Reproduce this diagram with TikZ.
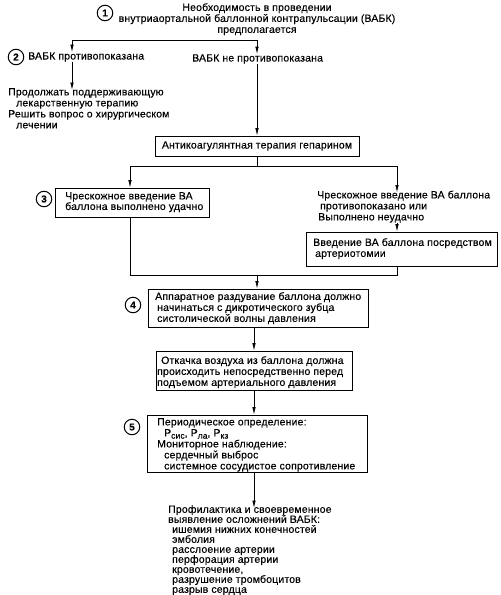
\documentclass[tikz,border=0pt]{standalone}
\usepackage{fontspec}
\setmainfont{Liberation Sans}[LetterSpace=1.5, FakeBold=0.3]
\usetikzlibrary{arrows.meta,calc}
\newcommand{\lowsub}[1]{\raisebox{-2.2pt}{\fontsize{8.5}{8.5}\selectfont #1}}
\begin{document}
\begin{tikzpicture}[x=1pt,y=-1pt,
  txt/.style={font=\fontsize{10.5}{11}\selectfont, inner sep=0, align=left, anchor=north west},
  box/.style={draw, line width=0.8pt, inner sep=0},
  num/.style={draw, circle, line width=1pt, minimum size=15.5pt, inner sep=0, font=\fontsize{10}{10}\selectfont\bfseries},
  arr/.style={-{Latex[length=7.5pt,width=3.5pt]}, line width=0.7pt},
  ln/.style={line width=0.7pt}]
\useasboundingbox (0,0) rectangle (501,595);

\node[txt, anchor=north, align=center] (need) at (257,3) {Необходимость в проведении\\внутриаортальной баллонной контрапульсации (ВАБК)\\предполагается};
\node[num] (n1) at (105,13) {1};
\coordinate (j1) at (257,40);
\coordinate (j1l) at (72,40);
\node[txt, anchor=west] (contra) at (28,57) {ВАБК противопоказана};
\node[num] (n2) at (16,57) {2};
\node[txt, anchor=west] (nocontra) at (192,59) {ВАБК не противопоказана};
\draw[ln] (j1l) -- (j1);
\draw[arr] (j1l) -- (j1l |- contra.north);
\draw[arr] (j1) -- (j1 |- nocontra.north);

\node[txt] (cont) at (8,88) {Продолжать поддерживающую\\\hspace*{8pt}лекарственную терапию\\Решить вопрос о хирургическом\\\hspace*{8pt}лечении};
\draw[arr] (j1l |- contra.south) -- ([yshift=-2pt]j1l |- cont.north);

\node[box, minimum width=204pt, minimum height=20pt, font=\fontsize{10.5}{11}\selectfont] (anti) at (257,146) {Антикоагулянтная терапия гепарином};
\draw[arr] (j1 |- nocontra.south) -- (anti.north);

\coordinate (j2) at (257,166);
\coordinate (j2l) at (130,166);
\coordinate (j2r) at (397,166);
\draw[ln] (anti.south) -- (j2);
\draw[ln] (j2l) -- (j2r);

\node[box, minimum width=154pt, minimum height=29pt] (perc) at (132,202.5) {};
\node[txt, font=\fontsize{10.5}{10.5}\selectfont] (perct) at (65,192) {Чрескожное введение ВА\\ баллона выполнено удачно};
\node[num] (n3) at (44,199) {3};
\draw[arr] (j2l) -- (j2l |- perc.north);

\node[txt] (fail) at (317,190.5) {Чрескожное введение ВА баллона\\\hspace*{3pt}противопоказано или\\\hspace*{1pt}Выполнено неудачно};
\draw[arr] (j2r) -- ([yshift=-2pt]j2r |- fail.north);

\node[box, minimum width=191pt, minimum height=34pt] (arto) at (401.5,249) {};
\node[txt] (artot) at (313,238) {Введение ВА баллона посредством\\\hspace*{2pt}артериотомии};
\draw[arr] (fail.south -| j2r) -- (j2r |- arto.north);

\coordinate (j3) at (257,275);
\coordinate (j3l) at (130,275);
\coordinate (j3r) at (397,275);
\draw[ln] (perc.south -| j3l) -- (j3l) -- (j3r) -- (arto.south -| j3r);

\node[box, minimum width=220pt, minimum height=38pt] (inf) at (258,308) {};
\node[txt] (inft) at (155,292) {Аппаратное раздувание баллона должно\\\hspace*{2pt}начинаться с дикротического зубца\\\hspace*{2pt}систолической волны давления};
\node[num] (n4) at (133,305) {4};
\draw[arr] (j3) -- (j3 |- inf.north);

\node[box, minimum width=196pt, minimum height=39pt] (defl) at (254,370.5) {};
\node[txt] (deflt) at (157,356) {\hspace*{4pt}Откачка воздуха из баллона должна\\происходить непосредственно перед\\подъемом артериального давления};
\draw[arr] (inf.south -| defl.north) -- (defl.north);

\node[box, minimum width=220pt, minimum height=57pt] (mon) at (257,443.5) {};
\node[txt] (mont) at (157,418) {Периодическое определение:\\\hspace*{7pt}P\lowsub{сис}, P\lowsub{ла}, P\lowsub{кз}\\Мониторное наблюдение:\\\hspace*{7pt}сердечный выброс\\\hspace*{7pt}системное сосудистое сопротивление};
\node[num] (n5) at (132,427) {5};
\draw[arr] (defl.south) -- (defl.south |- mon.north);

\node[txt, font=\fontsize{10.5}{10}\selectfont] (prof) at (168,505) {Профилактика и своевременное\\выявление осложнений ВАБК:\\\hspace*{4pt}ишемия нижних конечностей\\\hspace*{4pt}эмболия\\\hspace*{4pt}расслоение артерии\\\hspace*{4pt}перфорация артерии\\\hspace*{4pt}кровотечение,\\\hspace*{4pt}разрушение тромбоцитов\\\hspace*{4pt}разрыв сердца};
\draw[arr] (defl.south |- mon.south) -- ([yshift=-3pt]defl.south |- prof.north);
\end{tikzpicture}
\end{document}
